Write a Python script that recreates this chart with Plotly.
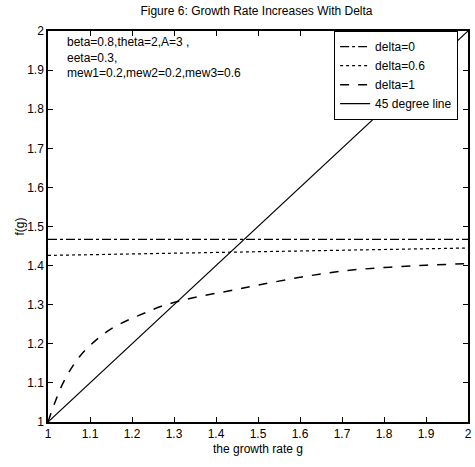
import plotly.graph_objects as go

g_flat = [1.0, 1.25, 1.5, 1.75, 2.0]
f_delta0 = [1.467, 1.467, 1.467, 1.467, 1.467]
f_delta06 = [1.426, 1.431, 1.436, 1.441, 1.445]

g_delta1 = [1.0, 1.036, 1.075, 1.115, 1.153, 1.193, 1.233, 1.27, 1.315, 1.365, 1.43, 1.5, 1.6, 1.7, 1.8, 1.9, 2.0]
f_delta1 = [1.0, 1.10, 1.167, 1.21, 1.24, 1.262, 1.28, 1.296, 1.31, 1.322, 1.335, 1.350, 1.370, 1.386, 1.395, 1.401, 1.405]

g_45 = [1.0, 2.0]
f_45 = [1.0, 2.0]

x_ticks = [1, 1.1, 1.2, 1.3, 1.4, 1.5, 1.6, 1.7, 1.8, 1.9, 2]
x_labels = ["1", "1.1", "1.2", "1.3", "1.4", "1.5", "1.6", "1.7", "1.8", "1.9", "2"]
y_ticks = [1, 1.1, 1.2, 1.3, 1.4, 1.5, 1.6, 1.7, 1.8, 1.9, 2]
y_labels = ["1", "1.1", "1.2", "1.3", "1.4", "1.5", "1.6", "1.7", "1.8", "1.9", "2"]

font = "Liberation Sans, Arial, sans-serif"

fig = go.Figure()
fig.add_trace(go.Scatter(x=g_flat, y=f_delta0, mode="lines", name="delta=0",
                         line=dict(color="black", width=1.2, dash="dashdot")))
fig.add_trace(go.Scatter(x=g_flat, y=f_delta06, mode="lines", name="delta=0.6",
                         line=dict(color="black", width=1.2, dash="dot")))
fig.add_trace(go.Scatter(x=g_delta1, y=f_delta1, mode="lines", name="delta=1",
                         line=dict(color="black", width=1.5, dash="dash", shape="spline")))
fig.add_trace(go.Scatter(x=g_45, y=f_45, mode="lines", name="45 degree line",
                         line=dict(color="black", width=1.2)))

axis_common = dict(showgrid=False, zeroline=False, showline=True, linecolor="black",
                   linewidth=1.5, mirror="ticks", ticks="inside", ticklen=5,
                   tickcolor="black", tickfont=dict(family=font, size=12, color="black"))

fig.update_xaxes(range=[1, 2], tickvals=x_ticks, ticktext=x_labels,
                 title=dict(text="the growth rate g", font=dict(family=font, size=12, color="black"), standoff=4),
                 **axis_common)
fig.update_yaxes(range=[1, 2], tickvals=y_ticks, ticktext=y_labels,
                 title=dict(text="f(g)", font=dict(family=font, size=12, color="black"), standoff=0),
                 **axis_common)

fig.add_annotation(xref="paper", yref="paper", x=0.04, y=0.995, xanchor="left", yanchor="top",
                   text="beta=0.8,theta=2,A=3 ,<br>eeta=0.3,<br>mew1=0.2,mew2=0.2,mew3=0.6",
                   showarrow=False, align="left",
                   font=dict(family=font, size=12, color="black"))

fig.update_layout(
    width=475, height=467,
    margin=dict(l=48, r=3, t=31, b=45),
    paper_bgcolor="white", plot_bgcolor="white",
    title=dict(text="Figure 6: Growth Rate Increases With Delta", x=0.54, xanchor="center",
               y=0.985, yanchor="top", font=dict(family=font, size=12, color="black")),
    legend=dict(x=0.976, y=1.0, xanchor="right", yanchor="top",
                bordercolor="black", borderwidth=1.2, bgcolor="white",
                font=dict(family=font, size=12, color="black"),
                tracegroupgap=0, itemwidth=30),
    showlegend=True,
)

fig.write_html("out.html")
